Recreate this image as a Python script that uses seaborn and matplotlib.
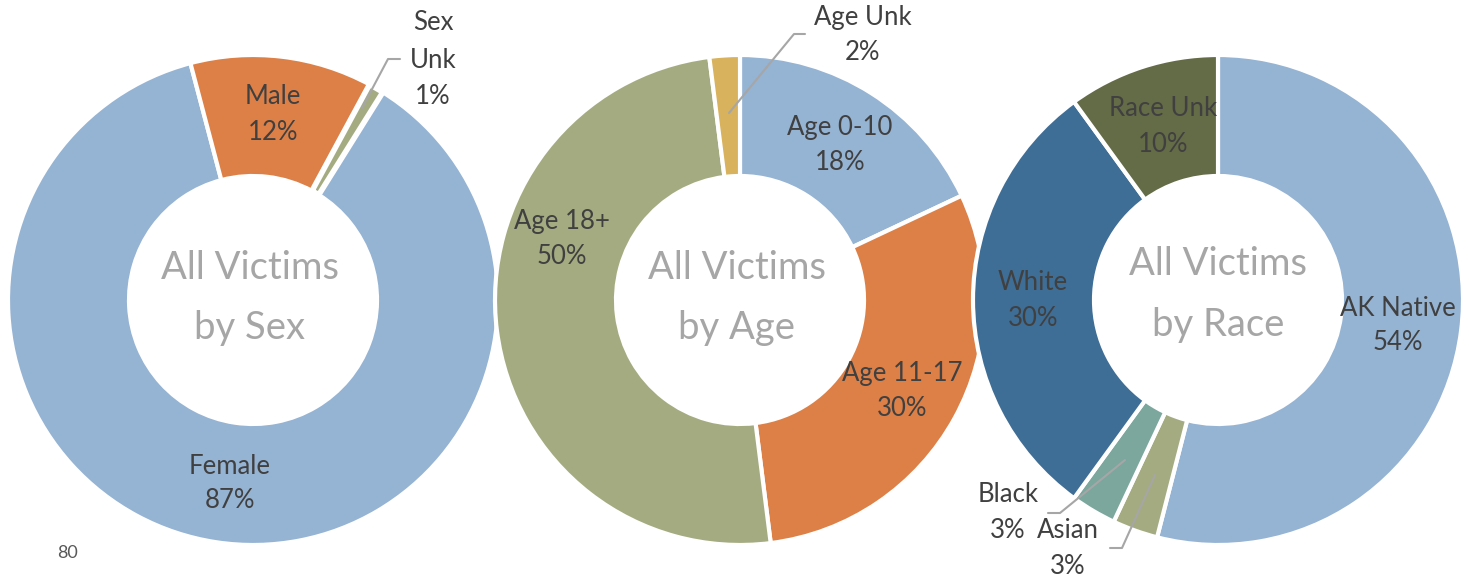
import matplotlib
matplotlib.use("Agg")
import matplotlib.pyplot as plt
import seaborn as sns

sns.set_style("white")
plt.rcParams['font.family'] = ['Lato', 'DejaVu Sans']

# ---- data ----
sex_labels = ["Female", "Male", "Sex Unk"]
sex_values = [87, 12, 1]
age_labels = ["Age 0-10", "Age 11-17", "Age 18+", "Age Unk"]
age_values = [18, 30, 50, 2]
race_labels = ["AK Native", "Asian", "Black", "White", "Race Unk"]
race_values = [54, 3, 3, 30, 10]
center_titles = ["All Victims\nby Sex", "All Victims\nby Age", "All Victims\nby Race"]
page_number = "80"

# ---- styles ----
blue, orange, sage, gold = "#95B3D3", "#DD8047", "#A5AB81", "#D8B25C"
sex_colors = [blue, orange, sage]
age_colors = [blue, orange, sage, gold]
race_colors = [blue, sage, "#7BA79D", "#3E6D96", "#646B47"]

W, H = 1469, 581
fig = plt.figure(figsize=(W / 100, H / 100), dpi=100)
ax = fig.add_axes([0, 0, 1, 1])

R = 245
WIDTH = 121
centers = [(253, 300), (740, 300), (1218, 300)]
starts = [90 - 32, 90, 90]

def Y(py):
    return H - py

charts = [(sex_values, sex_colors), (age_values, age_colors), (race_values, race_colors)]
for i, ((vals, cols), (cx, cy), st) in enumerate(zip(charts, centers, starts)):
    wedges, _ = ax.pie(vals, colors=cols, startangle=st, counterclock=False, radius=R,
                       center=(cx, Y(cy)),
                       wedgeprops=dict(width=WIDTH, edgecolor="white", linewidth=3))
    if i == 0:
        wedges[2].set_linewidth(4)

ax.set_xlim(0, W)
ax.set_ylim(0, H)
ax.set_aspect("equal")
ax.axis("off")

txt_color = "#404040"
fs = 18.5

def label(lines, x, ys, color=txt_color):
    for line, y in zip(lines, ys):
        ax.text(x, Y(y), line, ha="center", va="center", fontsize=fs, color=color)

def pct_lines(name, v):
    return name.split(" ") + [f"{v}%"] if name == "Sex Unk" else [name, f"{v}%"]

# sex labels
label(pct_lines(sex_labels[0], sex_values[0]), 230, [466, 500])
label(pct_lines(sex_labels[1], sex_values[1]), 273, [97, 132])
label(pct_lines(sex_labels[2], sex_values[2]), 433, [22, 60, 97])
# age labels
label(pct_lines(age_labels[0], age_values[0]), 840, [128, 162])
label(pct_lines(age_labels[1], age_values[1]), 902, [374, 409])
label(pct_lines(age_labels[2], age_values[2]), 562, [222, 257])
label(pct_lines(age_labels[3], age_values[3]), 863, [18, 53])
# race labels
label(pct_lines(race_labels[0], race_values[0]), 1398, [308, 342])
label(pct_lines(race_labels[1], race_values[1]), 1068, [531, 567])
label(pct_lines(race_labels[2], race_values[2]), 1008, [495, 531])
label(pct_lines(race_labels[3], race_values[3]), 1033, [283, 318])
label(pct_lines(race_labels[4], race_values[4]), 1163, [108, 144])

# leader lines
lead_color = "#A6A6A6"
leaders = [
    [(362, 108), (388, 59), (400, 59)],
    [(729, 113), (794, 34), (805, 34)],
    [(1125, 460), (1060, 513), (1048, 513)],
    [(1155, 475), (1122, 548), (1110, 548)],
]
for pts in leaders:
    ax.plot([p[0] for p in pts], [Y(p[1]) for p in pts], color=lead_color, lw=1.5)

# center titles
title_pos = [(250, [268, 328]), (737, [268, 328]), (1218, [264, 325])]
for t, (x, ys) in zip(center_titles, title_pos):
    for line, y in zip(t.split("\n"), ys):
        ax.text(x, Y(y), line, ha="center", va="center", fontsize=27.5, color="#A6A6A6")

ax.text(68, Y(553), page_number, ha="center", va="center", fontsize=13, color="#595959")

fig.savefig("out.png", dpi=100)
